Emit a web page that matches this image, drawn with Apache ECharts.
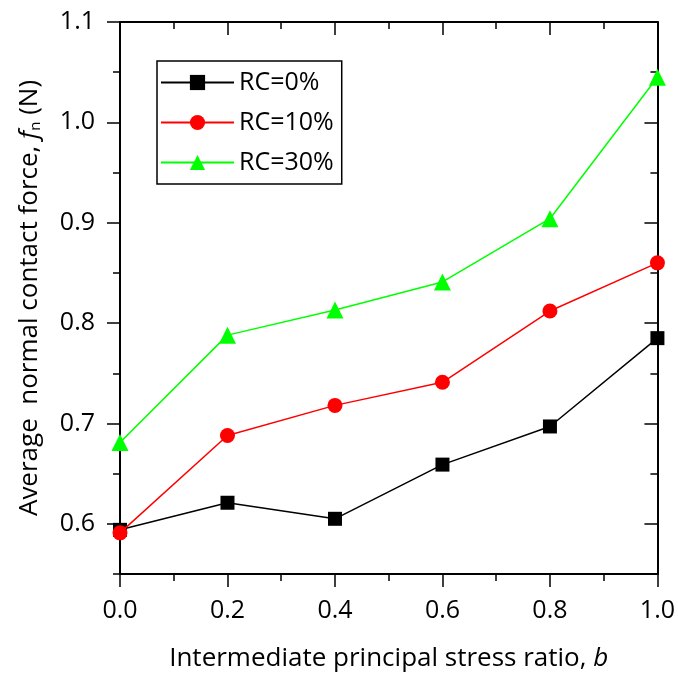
<!DOCTYPE html>
<html><head><meta charset="utf-8">
<script src="https://cdn.jsdelivr.net/npm/echarts@6/dist/echarts.min.js"></script>
<style>html,body{margin:0;padding:0;background:#fff}#c{width:678px;height:679px}</style>
</head><body><div id="c"></div>
<script>
const bValues = [0.0, 0.2, 0.4, 0.6, 0.8, 1.0];
const rc0 = [0.594, 0.621, 0.605, 0.659, 0.697, 0.785];
const rc10 = [0.591, 0.688, 0.718, 0.741, 0.812, 0.860];
const rc30 = [0.681, 0.788, 0.813, 0.841, 0.904, 1.045];
const seriesNames = ['RC=0%', 'RC=10%', 'RC=30%'];
const yMajorTicks = [0.6, 0.7, 0.8, 0.9, 1.0, 1.1];

const FONT = 'Open Sans';
const pair = (ys) => bValues.map((b, i) => [b, ys[i]]);
const yBase = {min: 0.55, max: 1.1, splitLine: {show: false}};
const chart = echarts.init(document.getElementById('c'));
chart.setOption({
  animation: false,
  grid: {left: 120, right: 19, top: 22, bottom: 105},
  legend: {
    left: 157, top: 61, orient: 'vertical',
    borderColor: '#000', borderWidth: 1.5, padding: [9, 8, 9, 3],
    itemWidth: 73, itemHeight: 19, itemGap: 15,
    textStyle: {fontFamily: FONT, fontSize: 25, color: '#000'},
    data: seriesNames
  },
  xAxis: [{
    type: 'value', min: 0, max: 1, interval: 0.2, position: 'bottom',
    axisLine: {lineStyle: {color: '#000', width: 2}},
    axisTick: {length: 13, lineStyle: {color: '#000', width: 1.5}},
    minorTick: {show: true, splitNumber: 2, length: 7, lineStyle: {color: '#000', width: 1.5}},
    axisLabel: {margin: 24, fontFamily: FONT, fontSize: 25, color: '#000', formatter: v => v.toFixed(1)},
    splitLine: {show: false},
    name: '{a|Intermediate principal stress ratio, }{i|b}',
    nameLocation: 'middle', nameGap: 72,
    nameTextStyle: {rich: {
      a: {fontFamily: FONT, fontSize: 26, color: '#000'},
      i: {fontFamily: FONT, fontSize: 26, color: '#000', fontStyle: 'italic'}
    }}
  }, {
    type: 'value', min: 0, max: 1, interval: 0.2, position: 'top',
    axisLine: {lineStyle: {color: '#000', width: 2}},
    axisTick: {inside: true, length: 13, lineStyle: {color: '#000', width: 1.5}},
    minorTick: {show: true, splitNumber: 2, length: 7, lineStyle: {color: '#000', width: 1.5}},
    axisLabel: {show: false}, splitLine: {show: false}
  }],
  yAxis: [Object.assign({}, yBase, {
    type: 'value', position: 'left', interval: 0.05,
    axisLine: {show: true, lineStyle: {color: '#000', width: 2}},
    axisTick: {show: true, length: 7, lineStyle: {color: '#000', width: 1.5}},
    axisLabel: {show: false},
    name: '{a|Average  normal contact force, }{i|f}{s|n}{a| (N)}',
    nameLocation: 'middle', nameGap: 77, nameRotate: 90,
    nameTextStyle: {rich: {
      a: {fontFamily: FONT, fontSize: 26, color: '#000'},
      i: {fontFamily: FONT, fontSize: 26, color: '#000', fontStyle: 'italic'},
      s: {fontFamily: FONT, fontSize: 15, color: '#000', verticalAlign: 'bottom', padding: [10, 0, 0, 0]}
    }}
  }), Object.assign({}, yBase, {
    type: 'value', position: 'left', interval: 0.05,
    axisLine: {show: false},
    axisTick: {show: true, length: 13, customValues: yMajorTicks, lineStyle: {color: '#000', width: 1.5}},
    axisLabel: {show: true, customValues: yMajorTicks, margin: 25, fontFamily: FONT, fontSize: 25, color: '#000', formatter: v => v.toFixed(1)}
  }), Object.assign({}, yBase, {
    type: 'value', position: 'right', interval: 0.05,
    axisLine: {show: true, lineStyle: {color: '#000', width: 2}},
    axisTick: {show: true, inside: true, length: 7, lineStyle: {color: '#000', width: 1.5}},
    axisLabel: {show: false}
  }), Object.assign({}, yBase, {
    type: 'value', position: 'right', interval: 0.05,
    axisLine: {show: false},
    axisTick: {show: true, inside: true, length: 13, customValues: yMajorTicks, lineStyle: {color: '#000', width: 1.5}},
    axisLabel: {show: false}
  })],
  series: [
    {name: seriesNames[0], type: 'line', data: pair(rc0), symbol: 'rect', symbolSize: 14,
     itemStyle: {color: '#000'}, lineStyle: {color: '#000', width: 1.5}, z: 3},
    {name: seriesNames[1], type: 'line', data: pair(rc10), symbol: 'circle', symbolSize: 15,
     itemStyle: {color: '#ff0000'}, lineStyle: {color: '#ff0000', width: 1.5}, z: 4},
    {name: seriesNames[2], type: 'line', data: pair(rc30), symbol: 'triangle', symbolSize: 17,
     itemStyle: {color: '#00ff00'}, lineStyle: {color: '#00ff00', width: 1.5}, z: 2}
  ]
});
</script></body></html>
